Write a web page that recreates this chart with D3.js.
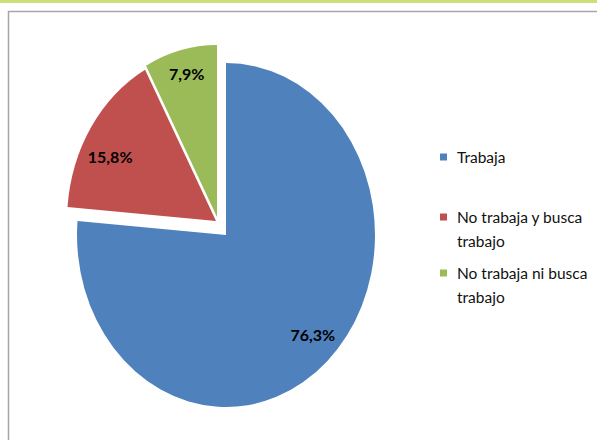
<!DOCTYPE html>
<html>
<head>
<meta charset="utf-8">
<script src="https://cdn.jsdelivr.net/npm/d3@7"></script>
<style>
  html, body { margin: 0; padding: 0; background: #fff; }
  svg { display: block; }
</style>
</head>
<body>
<svg id="chart" width="597" height="440"></svg>
<script>
const categories = ["Trabaja", "No trabaja y busca trabajo", "No trabaja ni busca trabajo"];
const values = [76.3, 15.8, 7.9];
const valueLabels = ["76,3%", "15,8%", "7,9%"];
const legendLines = [["Trabaja"], ["No trabaja y busca", "trabajo"], ["No trabaja ni busca", "trabajo"]];

// styling
const colors = ["#4F81BD", "#C0504D", "#9BBB59"];
const explode = [[0, 0], [-10, -14], [-9, -18]];
const labelNudge = [[6, -2], [-6, 11], [-1, -10]];
const W = 597, H = 440;
const cx = 226, cy = 235, ry = 172, rx = 149;
const sx = rx / ry;
const fontFam = "Lato, 'Open Sans', 'Liberation Sans', sans-serif";

const svg = d3.select("#chart");

// top accent line
svg.append("rect").attr("x", 0).attr("y", 0).attr("width", W).attr("height", 3).attr("fill", "#cbe078");
// chart frame
svg.append("rect").attr("x", 8.5).attr("y", 11.5).attr("width", W + 10).attr("height", H + 10)
  .attr("fill", "none").attr("stroke", "#a6a6a6").attr("stroke-width", 1.5);

const pie = d3.pie().sort(null).value(d => d)(values);
const arc = d3.arc().innerRadius(0).outerRadius(ry);
const labelArc = d3.arc().innerRadius(ry * 0.8).outerRadius(ry * 0.8);

const slices = svg.append("g").selectAll("g.slice").data(pie).join("g")
  .attr("class", "slice")
  .attr("transform", (d, i) => `translate(${cx + explode[i][0]},${cy + explode[i][1]}) scale(${sx},1)`);
slices.append("path").attr("d", arc).attr("fill", (d, i) => colors[i]);

svg.append("g").selectAll("text").data(pie).join("text")
  .attr("x", (d, i) => cx + explode[i][0] + labelArc.centroid(d)[0] * sx + labelNudge[i][0])
  .attr("y", (d, i) => cy + explode[i][1] + labelArc.centroid(d)[1] + labelNudge[i][1])
  .attr("text-anchor", "middle")
  .attr("dominant-baseline", "central")
  .attr("font-family", fontFam)
  .attr("font-weight", "bold")
  .attr("font-size", 16)
  .attr("fill", "#000")
  .text((d, i) => valueLabels[i]);

// legend
const legendY = [157, 217, 273];
const lg = svg.append("g").selectAll("g").data(categories).join("g")
  .attr("transform", (d, i) => `translate(440,${legendY[i]})`);
lg.append("rect").attr("x", 0).attr("y", -3.5).attr("width", 7).attr("height", 7)
  .attr("fill", (d, i) => colors[i]);
lg.append("text")
  .attr("x", 17).attr("y", 5.5)
  .attr("font-family", fontFam)
  .attr("font-size", 15.5)
  .attr("fill", "#111")
  .selectAll("tspan").data((d, i) => legendLines[i]).join("tspan")
  .attr("x", 17).attr("dy", (d, j) => j === 0 ? 0 : 24)
  .text(d => d);
</script>
</body>
</html>
